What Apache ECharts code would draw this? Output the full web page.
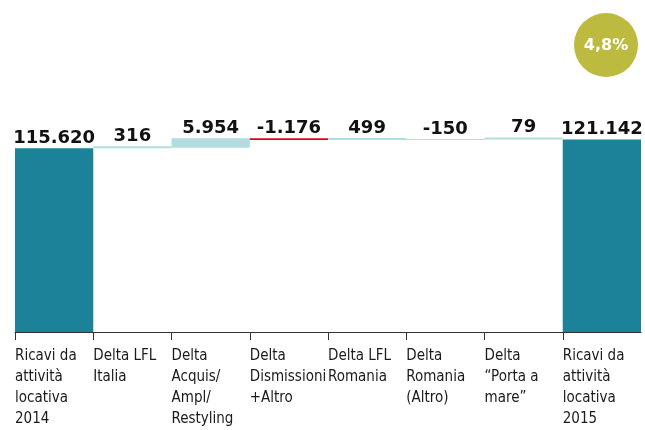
<!DOCTYPE html>
<html>
<head>
<meta charset="utf-8">
<script src="https://cdn.jsdelivr.net/npm/echarts@6/dist/echarts.min.js"></script>
<style>
  html, body { margin: 0; padding: 0; background: #fff; }
  #chart { width: 645px; height: 430px; }
</style>
</head>
<body>
<div id="chart"></div>
<script>
// Waterfall: rental revenues 2014 -> 2015 and the deltas in between
const categories = [
  'Ricavi da\nattività\nlocativa\n2014',
  'Delta LFL\nItalia',
  'Delta\nAcquis/\nAmpl/\nRestyling',
  'Delta\nDismissioni\n+Altro',
  'Delta LFL\nRomania',
  'Delta\nRomania\n(Altro)',
  'Delta\n“Porta a\nmare”',
  'Ricavi da\nattività\nlocativa\n2015'
];
const totals = [115620, null, null, null, null, null, null, 121142];
const deltas = [null, 316, 5954, -1176, 499, -150, 79, null];

const TEAL = '#1b8299';
const LIGHT = '#b1dde0';
const RED = '#e2001a';

// Italian number formatting: 115620 -> "115.620"
function fmt(n) {
  const s = Math.abs(n).toString().replace(/\B(?=(\d{3})+(?!\d))/g, '.');
  return (n < 0 ? '-' : '') + s;
}

// Build the invisible base and the visible parts of each step
const base = [], pos = [], neg = [], tot = [];
let running = 0;
categories.forEach((c, i) => {
  if (totals[i] != null) {
    running = totals[i];
    base.push('-'); pos.push('-'); neg.push('-'); tot.push(totals[i]);
  } else {
    const d = deltas[i];
    if (d >= 0) {
      base.push(running); pos.push(d); neg.push('-');
    } else {
      base.push(running + d); neg.push(-d); pos.push('-');
    }
    tot.push('-');
    running += d;
  }
});

const first = totals[0], last = totals[totals.length - 1];
const growth = ((last / first - 1) * 100).toFixed(1).replace('.', ',') + '%';

const valueLabel = {
  show: true,
  position: 'top',
  distance: 1,
  color: '#111',
  fontFamily: 'DejaVu Sans, sans-serif',
  fontWeight: 'bold',
  fontSize: 18
};

const chart = echarts.init(document.getElementById('chart'), null, { renderer: 'canvas' });
chart.setOption({
  animation: false,
  grid: { left: 15, right: 4, top: 14, bottom: 95 },
  xAxis: [
    {
      type: 'category',
      data: categories,
      axisLine: { show: true, lineStyle: { color: '#333', width: 1 } },
      axisTick: { show: false },
      axisLabel: { show: false }
    },
    {
      // label axis: names and ticks sit at the left edge of each column
      type: 'category',
      data: categories.concat(['']),
      boundaryGap: false,
      position: 'bottom',
      axisLine: { show: false },
      axisTick: {
        show: true, length: 8, lineStyle: { color: '#333' },
        interval: (idx) => idx < categories.length
      },
      axisLabel: {
        interval: 0,
        align: 'left',
        margin: 14,
        color: '#1a1a1a',
        fontFamily: 'DejaVu Sans Condensed, DejaVu Sans, sans-serif',
        fontSize: 15,
        lineHeight: 21
      }
    }
  ],
  yAxis: {
    type: 'value', min: 0, max: 200000, show: false,
    splitLine: { show: false }
  },
  series: [
    {
      type: 'bar', stack: 'w', data: base, barCategoryGap: '0%',
      itemStyle: { color: 'transparent' }, silent: true
    },
    {
      type: 'bar', stack: 'w', data: pos, barCategoryGap: '0%', barMinHeight: 2,
      itemStyle: { color: LIGHT },
      label: Object.assign({}, valueLabel, { formatter: p => fmt(p.value) })
    },
    {
      type: 'bar', stack: 'w', data: neg, barCategoryGap: '0%',
      itemStyle: { color: RED },
      label: Object.assign({}, valueLabel, { formatter: p => fmt(-p.value) })
    },
    {
      type: 'bar', stack: 'w', data: tot, barCategoryGap: '0%',
      itemStyle: { color: TEAL },
      label: Object.assign({}, valueLabel, { formatter: p => fmt(p.value) })
    }
  ],
  graphic: [
    {
      type: 'group', left: 574, top: 13,
      children: [
        { type: 'circle', shape: { cx: 32, cy: 32, r: 32 }, style: { fill: '#bdbb3f' } },
        {
          type: 'text', x: 32, y: 33,
          style: {
            text: growth, fill: '#fff', align: 'center', verticalAlign: 'middle',
            font: 'bold 16px DejaVu Sans, sans-serif'
          }
        }
      ]
    }
  ]
});
</script>
</body>
</html>
